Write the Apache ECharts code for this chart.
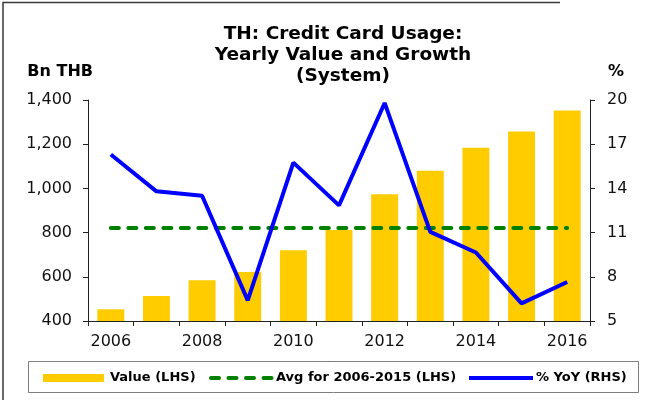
<!DOCTYPE html>
<html>
<head>
<meta charset="utf-8">
<script src="https://cdn.jsdelivr.net/npm/echarts@6/dist/echarts.min.js"></script>
<style>
  html, body { margin: 0; padding: 0; background: #fff; }
  #chart { width: 646px; height: 400px; }
</style>
</head>
<body>
<div id="chart"></div>
<script>
// years on the x axis
const years = ['2006', '2007', '2008', '2009', '2010', '2011', '2012', '2013', '2014', '2015', '2016'];
// credit card usage value, Bn THB (LHS)
const valueBn = [453, 513, 584, 622, 720, 812, 973, 1080, 1184, 1258, 1353];
// average for 2006-2015, drawn across all years (LHS)
const avgLine = [821, 821, 821, 821, 821, 821, 821, 821, 821, 821, 821];
// yoy growth, % (RHS)
const yoyPct = [16.3, 13.8, 13.5, 6.4, 15.75, 12.85, 19.8, 11.05, 9.65, 6.2, 7.65];

const FONT = 'DejaVu Sans, Verdana, sans-serif';
const GREEN = '#008000';
const BLUE = '#0000FF';
const YELLOW = '#FFCC00';

const legendText = (x, text) => ({
  type: 'text',
  left: x,
  top: 371,
  silent: true,
  style: { text, font: 'bold 13px ' + FONT, fill: '#000' },
});

const chart = echarts.init(document.getElementById('chart'), null, { renderer: 'canvas' });

chart.setOption({
  animation: false,
  title: {
    text: 'TH: Credit Card Usage:\nYearly Value and Growth\n(System)',
    left: 338,
    top: 19,
    textAlign: 'center',
    textStyle: {
      fontFamily: FONT,
      fontSize: 18.5,
      fontWeight: 'bold',
      lineHeight: 21,
      color: '#000',
    },
  },
  grid: { left: 88, right: 56, top: 100, bottom: 79 },
  // legend box drawn by hand so its icons match the original
  graphic: [
    {
      type: 'polyline',
      shape: { points: [[3, 420], [3, 2.5], [560, 2.5]] },
      style: { stroke: '#3a3a3a', lineWidth: 1.5, fill: null },
      silent: true,
    },
    {
      type: 'rect',
      shape: { x: 28.5, y: 361.5, width: 610, height: 31 },
      style: { stroke: '#7f7f7f', lineWidth: 1, fill: '#fff' },
      silent: true,
    },
    {
      type: 'rect',
      shape: { x: 43, y: 374, width: 61, height: 8 },
      style: { fill: YELLOW },
      silent: true,
    },
    legendText(110, 'Value (LHS)'),
    {
      type: 'line',
      shape: { x1: 211, y1: 378, x2: 272, y2: 378 },
      style: { stroke: GREEN, lineWidth: 4, lineDash: [8, 9.5], lineCap: 'round' },
      silent: true,
    },
    legendText(276, 'Avg for 2006-2015 (LHS)'),
    {
      type: 'line',
      shape: { x1: 469, y1: 378, x2: 533, y2: 378 },
      style: { stroke: BLUE, lineWidth: 4 },
      silent: true,
    },
    legendText(536, '% YoY (RHS)'),
  ],
  xAxis: {
    type: 'category',
    data: years,
    boundaryGap: true,
    axisLine: { lineStyle: { color: '#222', width: 1 } },
    axisTick: { show: true, interval: 0, length: 5, lineStyle: { color: '#222' } },
    axisLabel: {
      interval: 1,
      fontFamily: FONT,
      fontSize: 16,
      color: '#111',
      margin: 13,
    },
    splitLine: { show: false },
  },
  yAxis: [
    {
      type: 'value',
      min: 400,
      max: 1400,
      interval: 200,
      name: 'Bn THB',
      nameLocation: 'end',
      nameGap: 20,
      nameTextStyle: {
        fontFamily: FONT,
        fontSize: 16,
        fontWeight: 'bold',
        color: '#000',
        align: 'right',
        padding: [0, -5, 0, 0],
      },
      axisLine: { show: true, lineStyle: { color: '#222' } },
      axisTick: { show: true, length: 5, lineStyle: { color: '#222' } },
      axisLabel: {
        fontFamily: FONT,
        fontSize: 16,
        color: '#111',
        margin: 16,
        formatter: (v) => v.toLocaleString('en-US'),
      },
      splitLine: { show: false },
    },
    {
      type: 'value',
      min: 5,
      max: 20,
      interval: 3,
      name: '%',
      nameLocation: 'end',
      nameGap: 20,
      nameTextStyle: {
        fontFamily: FONT,
        fontSize: 16,
        fontWeight: 'bold',
        color: '#000',
        align: 'left',
        padding: [0, 0, 0, 18],
      },
      axisLine: { show: true, lineStyle: { color: '#222' } },
      axisTick: { show: true, length: 5, lineStyle: { color: '#222' } },
      axisLabel: {
        fontFamily: FONT,
        fontSize: 16,
        color: '#111',
        margin: 17,
      },
      splitLine: { show: false },
    },
  ],
  series: [
    {
      name: 'Value (LHS)',
      type: 'bar',
      yAxisIndex: 0,
      data: valueBn,
      barWidth: '59%',
      itemStyle: { color: YELLOW },
    },
    {
      name: 'Avg for 2006-2015 (LHS)',
      type: 'line',
      yAxisIndex: 0,
      data: avgLine,
      showSymbol: false,
      symbol: 'none',
      lineStyle: { color: GREEN, width: 4, type: [8, 9.5], cap: 'round' },
      z: 3,
    },
    {
      name: '% YoY (RHS)',
      type: 'line',
      yAxisIndex: 1,
      data: yoyPct,
      showSymbol: false,
      symbol: 'none',
      lineStyle: { color: BLUE, width: 4 },
      z: 4,
    },
  ],
});
</script>
</body>
</html>
